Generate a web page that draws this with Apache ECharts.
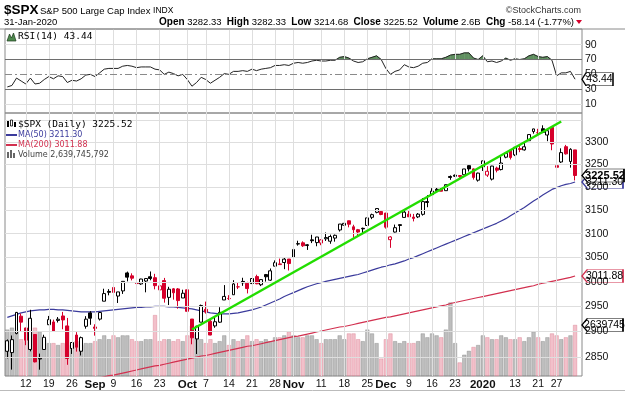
<!DOCTYPE html>
<html><head><meta charset="utf-8">
<script src="https://cdn.jsdelivr.net/npm/echarts@6/dist/echarts.min.js"></script>
<style>html,body{margin:0;padding:0;background:#fff}#c{width:625px;height:394px}</style>
</head><body><div id="c"></div>
<script>
const dates = [
'2019-08-06','2019-08-07','2019-08-08','2019-08-09','2019-08-12','2019-08-13','2019-08-14','2019-08-15','2019-08-16','2019-08-19','2019-08-20','2019-08-21','2019-08-22','2019-08-23','2019-08-26','2019-08-27','2019-08-28','2019-08-29','2019-08-30',
'2019-09-03','2019-09-04','2019-09-05','2019-09-06','2019-09-09','2019-09-10','2019-09-11','2019-09-12','2019-09-13','2019-09-16','2019-09-17','2019-09-18','2019-09-19','2019-09-20','2019-09-23','2019-09-24','2019-09-25','2019-09-26','2019-09-27','2019-09-30',
'2019-10-01','2019-10-02','2019-10-03','2019-10-04','2019-10-07','2019-10-08','2019-10-09','2019-10-10','2019-10-11','2019-10-14','2019-10-15','2019-10-16','2019-10-17','2019-10-18','2019-10-21','2019-10-22','2019-10-23','2019-10-24','2019-10-25','2019-10-28','2019-10-29','2019-10-30','2019-10-31',
'2019-11-01','2019-11-04','2019-11-05','2019-11-06','2019-11-07','2019-11-08','2019-11-11','2019-11-12','2019-11-13','2019-11-14','2019-11-15','2019-11-18','2019-11-19','2019-11-20','2019-11-21','2019-11-22','2019-11-25','2019-11-26','2019-11-27','2019-11-29',
'2019-12-02','2019-12-03','2019-12-04','2019-12-05','2019-12-06','2019-12-09','2019-12-10','2019-12-11','2019-12-12','2019-12-13','2019-12-16','2019-12-17','2019-12-18','2019-12-19','2019-12-20','2019-12-23','2019-12-24','2019-12-26','2019-12-27','2019-12-30','2019-12-31',
'2020-01-02','2020-01-03','2020-01-06','2020-01-07','2020-01-08','2020-01-09','2020-01-10','2020-01-13','2020-01-14','2020-01-15','2020-01-16','2020-01-17','2020-01-21','2020-01-22','2020-01-23','2020-01-24','2020-01-27','2020-01-28','2020-01-29','2020-01-30','2020-01-31'];

const opens = [
2861.18,2858.65,2896.21,2930.51,2907.07,2864.74,2894.15,2846.20,2864.74,2913.48,2919.01,2922.04,2930.94,2911.07,2866.70,2893.14,2861.28,2910.37,2937.09,
2909.01,2924.67,2960.60,2980.33,2988.43,2971.01,2981.41,3018.21,3012.21,2996.41,2995.67,3001.50,3010.36,3008.42,2983.50,3002.43,2968.35,2985.73,2985.47,2967.07,
2983.69,2924.78,2885.38,2918.56,2944.23,2920.40,2911.10,2918.55,2963.07,2965.81,2973.61,2989.68,3000.77,2996.84,2996.48,3010.73,2994.01,3014.78,3003.32,3032.12,3035.39,3039.74,3046.90,
3050.72,3078.96,3080.80,3075.10,3087.02,3081.25,3080.33,3089.28,3084.18,3090.75,3107.92,3117.91,3127.45,3114.66,3108.49,3111.41,3117.44,3134.85,3145.49,3147.18,
3143.85,3087.41,3103.50,3119.21,3134.62,3141.86,3135.36,3135.75,3141.23,3166.65,3183.63,3195.40,3195.21,3192.32,3223.33,3226.05,3225.45,3227.20,3247.23,3240.09,3215.18,
3244.67,3226.36,3217.55,3241.86,3238.59,3266.03,3281.81,3271.13,3285.35,3282.27,3302.97,3323.66,3321.03,3330.02,3315.77,3333.10,3247.16,3255.35,3289.46,3256.45,3282.33];

const highs = [
2884.40,2892.17,2938.72,2935.75,2907.58,2943.31,2894.15,2856.67,2893.63,2931.00,2923.63,2928.73,2939.08,2927.01,2879.27,2898.79,2890.03,2930.50,2940.43,
2914.39,2938.84,2985.86,2985.03,2989.43,2979.39,3000.93,3020.98,3017.33,3002.19,3006.21,3007.83,3021.19,3016.37,2999.15,3007.98,2989.82,2987.28,2987.31,2983.85,
2992.53,2924.78,2911.13,2953.74,2959.75,2925.47,2929.32,2948.46,2993.28,2972.84,3003.28,2997.54,3008.29,3000.00,3007.33,3014.57,3004.78,3016.07,3027.39,3044.08,3047.87,3050.10,3046.90,
3066.95,3085.20,3083.95,3078.34,3097.77,3093.09,3088.33,3102.61,3098.06,3098.20,3120.46,3124.17,3127.64,3118.97,3110.11,3112.87,3133.83,3142.69,3154.26,3150.30,
3144.31,3094.97,3119.38,3119.45,3150.60,3148.87,3142.12,3143.98,3176.28,3182.68,3197.71,3198.22,3198.48,3205.48,3225.65,3227.78,3226.43,3240.08,3247.93,3240.92,3231.72,
3258.14,3246.15,3246.84,3244.91,3267.07,3275.58,3282.99,3288.13,3294.25,3298.66,3317.11,3329.88,3329.79,3337.77,3326.88,3333.18,3258.85,3285.78,3293.47,3285.91,3282.33];

const lows = [
2847.42,2825.71,2894.47,2900.15,2873.14,2861.12,2839.64,2825.51,2864.74,2913.48,2899.60,2917.91,2904.51,2834.97,2856.00,2860.59,2853.05,2905.67,2913.32,
2891.85,2921.86,2960.60,2972.51,2969.39,2957.01,2975.31,3000.92,3002.90,2990.67,2993.73,2978.57,3003.16,2984.68,2982.23,2957.73,2952.86,2963.71,2945.53,2967.07,
2938.70,2874.93,2855.94,2918.56,2935.68,2892.66,2907.41,2917.12,2963.07,2962.94,2973.61,2985.20,2991.79,2976.31,2995.35,2995.04,2991.21,3000.42,3001.94,3032.12,3034.81,3025.96,3023.19,
3050.72,3074.87,3072.15,3065.89,3080.23,3073.58,3075.82,3084.73,3078.80,3083.26,3104.60,3112.06,3113.47,3091.41,3094.55,3099.26,3117.44,3131.00,3143.41,3139.34,
3110.78,3070.33,3102.53,3103.76,3134.62,3135.46,3126.09,3133.21,3138.47,3156.51,3183.63,3191.03,3191.14,3192.32,3216.03,3222.30,3220.51,3227.20,3234.37,3216.57,3212.03,
3235.53,3222.34,3214.64,3232.43,3236.67,3263.67,3260.86,3268.43,3277.19,3280.69,3302.82,3318.86,3316.61,3320.04,3301.87,3281.53,3234.50,3253.22,3271.89,3242.80,3214.68];

const closes = [
2881.77,2883.98,2938.09,2918.65,2882.70,2926.32,2840.60,2847.60,2888.68,2923.65,2900.51,2924.43,2922.95,2847.11,2878.38,2869.16,2887.94,2924.58,2926.46,
2906.27,2937.78,2976.00,2978.71,2978.43,2979.39,3000.93,3009.57,3007.39,2997.96,3005.70,3006.73,3006.79,2992.07,2991.78,2966.60,2984.87,2977.62,2961.79,2976.74,
2940.25,2887.61,2910.63,2952.01,2938.79,2893.06,2919.40,2938.13,2970.27,2966.15,2995.68,2989.69,2997.95,2986.20,3006.72,2995.99,3004.52,3010.29,3022.55,3039.42,3036.89,3046.77,3037.56,
3066.91,3078.27,3074.62,3076.78,3085.18,3093.08,3087.01,3091.84,3094.04,3096.63,3120.46,3122.03,3120.18,3108.46,3103.54,3110.29,3133.64,3140.52,3153.63,3140.98,
3113.87,3093.20,3112.76,3117.43,3145.91,3135.96,3132.52,3141.63,3168.57,3168.80,3191.45,3192.52,3191.14,3205.37,3221.22,3224.01,3223.38,3239.91,3240.02,3221.29,3230.78,
3257.85,3234.85,3246.28,3237.18,3253.05,3274.70,3265.35,3288.13,3283.15,3289.29,3316.81,3329.62,3320.79,3321.75,3325.54,3295.47,3243.63,3276.24,3273.40,3283.66,3225.52];

const prevClose = 2844.74;

const volumes = [
2400,2500,2300,1900,1800,2300,2500,2300,1900,1700,1700,1600,1700,2600,1600,1800,1600,1700,1700,
1800,1900,2100,1900,2100,2000,2100,2100,1900,1800,1800,1900,1900,3150,1800,1900,1900,1800,1900,1800,
2100,2600,2200,1900,1700,1900,1700,1800,2100,1600,1900,1800,1900,2100,1800,1900,1800,1900,1800,2000,2000,2100,2300,
2100,2000,2000,2100,2100,1900,1700,1900,1900,1900,2100,1900,2200,2200,1900,1800,2400,2200,1700,900,
1900,2200,1800,1700,1800,1700,1700,1800,2200,2000,2200,2100,2000,2400,3800,1700,700,1100,1300,1500,1600,
2100,2000,1900,1900,2100,2000,1900,1900,2000,1800,2000,2300,2000,1800,2000,2200,2100,1900,2000,2100,2640];

const ma50 = [
2928,2931,2934,2937,2939,2941,2942,2943,2943,2944,2944,2943,2943,2942,2941,2940,2939,2939,2939,
2939,2940,2941,2942,2943,2944,2945,2946,2947,2948,2948,2949,2949,2950,2950,2950,2949,2949,2948,2947,
2946,2945,2943,2941,2939,2937,2936,2935,2935,2935,2936,2937,2939,2941,2943,2946,2949,2953,2957,2961,2965,2970,2974,
2978,2982,2986,2990,2993,2996,2998,3001,3003,3005,3007,3009,3011,3013,3015,3018,3021,3024,3027,3030,
3032,3035,3037,3040,3043,3047,3050,3054,3058,3062,3066,3070,3074,3078,3082,3086,3090,3094,3098,3102,3106,
3110,3114,3118,3122,3127,3132,3138,3144,3150,3156,3163,3170,3176,3183,3189,3195,3199,3203,3206,3208,3211.30];

const ma200 = [
2772,2774,2776,2778,2780,2781,2783,2785,2787,2789,2791,2793,2795,2797,2799,2801,2803,2804,2806,
2808,2810,2812,2814,2815,2817,2819,2821,2823,2825,2827,2829,2831,2833,2834,2836,2838,2840,2842,2844,
2846,2848,2850,2852,2853,2855,2857,2859,2861,2863,2865,2867,2869,2871,2872,2874,2876,2878,2880,2882,2884,2886,2888,
2890,2891,2893,2895,2897,2899,2901,2903,2905,2907,2909,2910,2912,2914,2916,2918,2920,2922,2924,2926,
2928,2929,2931,2933,2935,2937,2939,2941,2943,2945,2947,2949,2951,2953,2956,2958,2960,2962,2964,2966,2968,
2970,2972,2974,2976,2978,2980,2982,2984,2986,2988,2990,2992,2995,2997,2999,3001,3003,3005,3007,3009,3011.88];

const rsi = [
33,35,45,41,37,45,37,38,43,47,44,48,47,39,42,41,44,49,50,
47,52,57,58,58,58,61,62,61,59,60,60,60,57,56,50,53,51,48,50,
43,34,39,46,43,38,42,46,51,50,54,54,55,54,57,55,57,58,59,62,62,63,62,
65,66,65,66,68,69,68,68,69,69,73,74,72,68,66,67,71,73,75,70,
58,50,54,56,63,60,59,61,65,66,71,71,71,73,76,77,77,79,79,72,70,
75,67,68,66,68,72,69,71,70,71,75,77,74,73,74,69,48,52,52,54,43.44];

const tickDates = ['2019-08-12','2019-08-19','2019-08-26','2019-09-03','2019-09-09','2019-09-16','2019-09-23','2019-10-01','2019-10-07','2019-10-14','2019-10-21','2019-10-28','2019-11-01','2019-11-11','2019-11-18','2019-11-25','2019-12-02','2019-12-09','2019-12-16','2019-12-23','2020-01-02','2020-01-13','2020-01-21','2020-01-27'];
const tickTexts = ['12','19','26','Sep','9','16','23','Oct','7','14','21','28','Nov','11','18','25','Dec','9','16','23','2020','13','21','27'];
const boldTicks = ['Sep','Oct','Nov','Dec','2020'];
const priceTicks = [3350,3300,3250,3200,3150,3100,3050,3000,2950,2900,2850];
const rsiTicks = [90,70,50,30,10];

const trendStart = ['2019-10-02', 2904];
const trendEnd = ['2020-01-28', 3346.4];

const lastClose = 3225.52, lastMA50 = 3211.30, lastMA200 = 3011.88, lastVol = 2639.745792, lastRSI = 43.44;

const FONT = '"Liberation Sans", Arial, sans-serif';
const RED = '#d6002b', BLK = '#000';
const cats = dates.concat(['pad']);
const padIdx = cats.length - 1;
const tickMap = {}; tickDates.forEach((d,i)=>tickMap[d]=tickTexts[i]);

const candleData = dates.map((d,i)=>{
  const o=opens[i], c=closes[i], l=lows[i], h=highs[i];
  const pc = i>0 ? closes[i-1] : prevClose;
  const col = c >= pc ? BLK : RED;
  const fill = c > o ? '#fff' : col;
  return {value:[o,c,l,h], itemStyle:{color:fill, color0:fill, borderColor:col, borderColor0:col, borderWidth:1}};
});
const volData = dates.map((d,i)=>{
  const pc = i>0 ? closes[i-1] : prevClose;
  const up = closes[i] >= pc;
  return {value:volumes[i], itemStyle:{color: up ? 'rgba(150,150,150,0.62)' : 'rgba(232,140,158,0.55)', borderColor: up ? 'rgba(120,120,120,0.7)':'rgba(215,110,130,0.7)', borderWidth:0.5}};
});

function boxMark(value, text, border, textColor, bold, w, idx){
  return {
    symbol:'path://M0,6.5L6,0L46,0L46,13L6,13Z',
    symbolSize:[w,13], symbolKeepAspect:false,
    symbolOffset:[(582 - 579.7) + w/2, 0],
    itemStyle:{color:'#fff', borderColor:border, borderWidth:1},
    label:{show:true, position:'inside', formatter:text, color:textColor, fontFamily:FONT, fontSize:bold?11:10.5, fontWeight:bold?'bold':'normal', offset:[2,0]},
    silent:true, animation:false,
    data:[{coord:[idx, value]}]
  };
}

const vLines = tickDates.map(d=>({xAxis:d, label:{show:false}, lineStyle:{color:'#dedede', width:1, type:'solid'}}));
const priceLines = priceTicks.map(v=>({yAxis:v, name:String(v), label:{show: v!==3350}, lineStyle:{color:'#dedede', width:1, type:'solid'}}));
const rsiLines = rsiTicks.map(v=>{
  let ls = {color:'#dedede', width:1, type:'solid'};
  if (v===70 || v===30) ls = {color:'#6e6e6e', width:1, type:'solid'};
  if (v===50) ls = {color:'#8a8a8a', width:1, type:[7,3,2,3]};
  return {yAxis:v, name:String(v), lineStyle:ls};
});
const mlLabel = {show:true, position:'end', formatter:'{b}', distance:3, color:'#111', fontSize:10.5, fontFamily:FONT};

const TOP = 100;
const option = {
  animation:false,
  backgroundColor:'#fff',
  grid:[
    {left:5, right:43, top:29, height:84, show:true, borderColor:'#8a8a8a', borderWidth:1, backgroundColor:'rgba(0,0,0,0)', outerBoundsMode:'none'},
    {left:5, right:43, top:113, height:263, show:true, borderColor:'#8a8a8a', borderWidth:1, backgroundColor:'rgba(0,0,0,0)', outerBoundsMode:'none'}
  ],
  xAxis:[
    {gridIndex:0, type:'category', data:cats, boundaryGap:true, axisLine:{show:false}, axisTick:{show:false}, axisLabel:{show:false}, splitLine:{show:false}},
    {gridIndex:1, type:'category', data:cats, boundaryGap:true, axisLine:{show:false}, axisTick:{show:false}, splitLine:{show:false},
      axisLabel:{show:true, interval:(i,v)=>tickMap[v]!==undefined, hideOverlap:false, margin:3, color:'#111', fontSize:10.5, fontFamily:FONT,
        formatter:(v)=>{const t=tickMap[v]; if(t===undefined) return ''; return boldTicks.includes(t) ? '{b|'+t+'}' : t;},
        rich:{b:{fontWeight:'bold', fontSize:11.5, fontFamily:FONT, color:'#111'}}}}
  ],
  yAxis:[
    {gridIndex:0, type:'value', min:-2.16, max:111.2, axisLine:{show:false}, axisTick:{show:false}, axisLabel:{show:false}, splitLine:{show:false}},
    {gridIndex:1, type:'log', logBase:10, min:2813.4, max:3365.9, axisLine:{show:false}, axisTick:{show:false}, axisLabel:{show:false}, splitLine:{show:false}},
    {gridIndex:1, type:'value', min:0, max:13600, axisLine:{show:false}, axisTick:{show:false}, axisLabel:{show:false}, splitLine:{show:false}}
  ],
  series:[
    {type:'line', xAxisIndex:0, yAxisIndex:0, data:rsi, symbol:'none', lineStyle:{opacity:0}, silent:true, z:1,
      markLine:{silent:true, symbol:['none','none'], animation:false, label:mlLabel, data: vLines.concat(rsiLines)}},
    {type:'custom', xAxisIndex:0, yAxisIndex:0, z:2, silent:true,
      data: rsi.slice(0,-1).map((r,i)=>[i, r, rsi[i+1]]),
      renderItem:(params, api)=>{
        const i=api.value(0), r0=api.value(1), r1=api.value(2);
        if (r0<=70 && r1<=70) return;
        const p0=api.coord([i,r0]), p1=api.coord([i+1,r1]);
        const b0=api.coord([i,70]), b1=api.coord([i+1,70]);
        let pts;
        if (r0>70 && r1>70) pts=[b0,p0,p1,b1];
        else { const t=(r0-70)/(r0-r1); const xc=p0[0]+(p1[0]-p0[0])*t;
          pts = r0>70 ? [b0,p0,[xc,b0[1]]] : [[xc,b0[1]],p1,b1]; }
        return {type:'polygon', shape:{points:pts}, style:{fill:'#5f8f5f', stroke:'#5f8f5f', lineWidth:0.5}};
      }},
    {type:'line', xAxisIndex:0, yAxisIndex:0, data:rsi, symbol:'none', z:3, silent:true,
      lineStyle:{color:'#222', width:1},
      markPoint: boxMark(lastRSI, '43.44', '#000', '#000', false, 31, padIdx)},

    {type:'line', xAxisIndex:1, yAxisIndex:1, data:closes, symbol:'none', lineStyle:{opacity:0}, silent:true, z:1,
      markLine:{silent:true, symbol:['none','none'], animation:false, label:mlLabel, data: vLines.concat(priceLines)}},
    {type:'bar', xAxisIndex:1, yAxisIndex:2, data:volData, barCategoryGap:'12%', z:2, silent:true,
      markPoint: boxMark(lastVol, '2639745', '#000', '#000', false, 41, padIdx)},
    {type:'line', xAxisIndex:1, yAxisIndex:1, data:ma200, symbol:'none', z:3, silent:true, lineStyle:{color:'#d2304f', width:1.2},
      markPoint: boxMark(lastMA200, '3011.88', '#d2304f', '#000', false, 41, padIdx)},
    {type:'line', xAxisIndex:1, yAxisIndex:1, data:ma50, symbol:'none', z:3, silent:true, lineStyle:{color:'#3b3b9c', width:1.2},
      markPoint: boxMark(lastMA50, '3211.30', '#3b3b9c', '#000', false, 41, padIdx)},
    {type:'candlestick', xAxisIndex:1, yAxisIndex:1, data:candleData, barWidth:3.4, z:4, silent:true, clip:false,
      markPoint: boxMark(lastClose, '3225.52', '#000', '#000', true, 42, padIdx)},
    {type:'line', xAxisIndex:1, yAxisIndex:1, data:[trendStart, trendEnd], symbol:'none', z:5, silent:true,
      lineStyle:{color:'#22dd00', width:2.5}}
  ],
  graphic:[
    {type:'text', z:TOP, x:4, y:10, style:{text:'$SPX', font:'bold 13.5px '+FONT, fill:'#000', textVerticalAlign:'middle', verticalAlign:'middle'}},
    {type:'text', z:TOP, x:40, y:11, style:{text:'S&P 500 Large Cap Index {s|INDX}', font:'9.5px '+FONT, fill:'#000', textVerticalAlign:'middle', verticalAlign:'middle',
      rich:{s:{font:'8.5px '+FONT, fill:'#000'}}}},
    {type:'text', z:TOP, x:581, y:11, style:{text:'©StockCharts.com', font:'9px '+FONT, fill:'#333', textAlign:'right', align:'right', textVerticalAlign:'middle', verticalAlign:'middle'}},
    {type:'text', z:TOP, x:4, y:22, style:{text:'31-Jan-2020', font:'9.5px '+FONT, fill:'#000', textVerticalAlign:'middle', verticalAlign:'middle'}},
    {type:'text', z:TOP, x:574, y:22, style:{text:'{b|Open} 3282.33  {b|High} 3282.33  {b|Low} 3214.68  {b|Close} 3225.52  {b|Volume} 2.6B  {b|Chg} -58.14 (-1.77%)', font:'9.5px '+FONT, fill:'#000', textAlign:'right', align:'right', textVerticalAlign:'middle', verticalAlign:'middle',
      rich:{b:{font:'bold 10px '+FONT, fill:'#000'}}}},
    {type:'polygon', z:TOP, shape:{points:[[576,20],[582,20],[579,24]]}, style:{fill:'#d6002b'}},
    {type:'line', z:TOP, shape:{x1:0, y1:29, x2:625, y2:29}, style:{stroke:'#8a8a8a', lineWidth:1}},
    {type:'line', z:TOP, shape:{x1:0, y1:390.5, x2:625, y2:390.5}, style:{stroke:'#bbb', lineWidth:1}},

    {type:'polygon', z:TOP, shape:{points:[[7,41],[9.5,34],[11.5,38],[13.5,33],[16,41]]}, style:{fill:'#4f8a4f', stroke:'#1a3a1a', lineWidth:0.7}},
    {type:'text', z:TOP, x:18, y:37, style:{text:'RSI(14) 43.44', font:'9.5px "DejaVu Sans Mono", monospace', fill:'#000', textVerticalAlign:'middle', verticalAlign:'middle'}},

    {type:'rect', z:TOP, shape:{x:7, y:121, width:2, height:6}, style:{fill:'#000'}},
    {type:'rect', z:TOP, shape:{x:10.5, y:120, width:2, height:6}, style:{fill:'#fff', stroke:'#000', lineWidth:0.8}},
    {type:'rect', z:TOP, shape:{x:14, y:122, width:2, height:5}, style:{fill:'#000'}},
    {type:'text', z:TOP, x:18, y:125, style:{text:'$SPX (Daily) 3225.52', font:'9.5px "DejaVu Sans Mono", monospace', fill:'#000', textVerticalAlign:'middle', verticalAlign:'middle'}},
    {type:'line', z:TOP, shape:{x1:6, y1:135, x2:17, y2:135}, style:{stroke:'#3b3b9c', lineWidth:2}},
    {type:'text', z:TOP, x:18, y:135, style:{text:'MA(50) 3211.30', font:'8px "DejaVu Sans", sans-serif', fill:'#3b3b9c', textVerticalAlign:'middle', verticalAlign:'middle'}},
    {type:'line', z:TOP, shape:{x1:6, y1:145, x2:17, y2:145}, style:{stroke:'#d2304f', lineWidth:2}},
    {type:'text', z:TOP, x:18, y:145, style:{text:'MA(200) 3011.88', font:'8px "DejaVu Sans", sans-serif', fill:'#d2304f', textVerticalAlign:'middle', verticalAlign:'middle'}},
    {type:'rect', z:TOP, shape:{x:7, y:152, width:2, height:6}, style:{fill:'#666'}},
    {type:'rect', z:TOP, shape:{x:10, y:150, width:2, height:8}, style:{fill:'#666'}},
    {type:'rect', z:TOP, shape:{x:13, y:153, width:2, height:5}, style:{fill:'#666'}},
    {type:'text', z:TOP, x:18, y:155, style:{text:'Volume 2,639,745,792', font:'8px "DejaVu Sans", sans-serif', fill:'#444', textVerticalAlign:'middle', verticalAlign:'middle'}}
  ]
};

const chart = echarts.init(document.getElementById('c'), null, {renderer:'canvas', width:625, height:394});
chart.setOption(option);
</script></body></html>
